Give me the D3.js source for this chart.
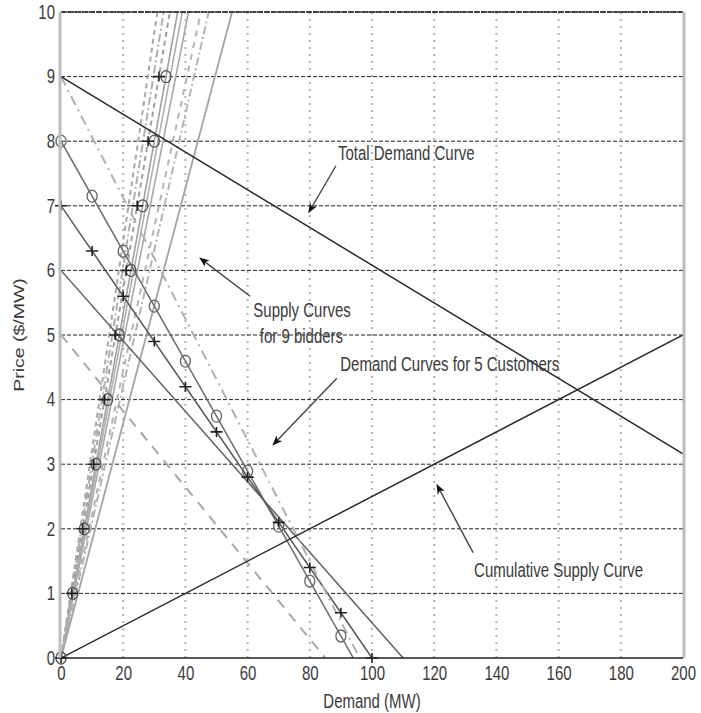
<!DOCTYPE html>
<html>
<head>
<meta charset="utf-8">
<script src="https://cdn.jsdelivr.net/npm/d3@7"></script>
<style>
  body { margin: 0; background: #fff; }
  svg { display: block; }
  text { font-family: "Liberation Sans", Arial, sans-serif; fill: #3a3a3a; }
</style>
</head>
<body>
<svg id="chart" width="701" height="713"></svg>
<script>
// ---------- data ----------
const xTicks = [0, 20, 40, 60, 80, 100, 120, 140, 160, 180, 200];
const yTicks = [0, 1, 2, 3, 4, 5, 6, 7, 8, 9, 10];

// Supply curves of 9 bidders: quantity (MW) reached at price 10 $/MW (lines through origin)
const supplyQtyAtPrice10 = [31, 33, 35, 37.5, 39, 41, 45, 47.5, 55];
// Price points of the marked supply curves
const supplyMarkerPrices = [0, 1, 2, 3, 4, 5, 6, 7, 8, 9];

// Demand curves of 5 customers: price intercept and demand at zero price
const customerPriceIntercept = [8, 7, 6, 5, 9];
const customerMaxDemand = [94, 100, 110, 85, 96];
// Marker quantities on customer 1 (circles) and customer 2 (pluses)
const customer1MarkerQty = [0, 10, 20, 30, 40, 50, 60, 70, 80, 90];
const customer2MarkerQty = [0, 10, 20, 30, 40, 50, 60, 70, 80, 90, 100];

// Aggregate curves
const totalDemand = [[0, 9], [200, 3.16]];
const cumulativeSupply = [[0, 0], [200, 5]];

// Annotations (data coordinates)
const annotationLabels = ["Total Demand Curve", "Supply Curves", "for 9 bidders", "Demand Curves for 5 Customers", "Cumulative Supply Curve"];
const annotationPos = [[111, 7.82], [77.5, 5.39], [77.3, 4.98], [125, 4.55], [160, 1.36]];
const arrowFrom = [[88.4, 7.62], [60.8, 5.6], [88.7, 4.33], [132.5, 1.63]];
const arrowTo = [[79.7, 6.9], [44.7, 6.19], [68.2, 3.3], [120.9, 2.68]];

// ---------- drawing ----------
const svg = d3.select("#chart");
const x = d3.scaleLinear([0, 200], [61, 683]);
const y = d3.scaleLinear([0, 10], [658, 12]);
const VS = 1.3; // vertical stretch of the lettering

svg.append("defs").append("clipPath").attr("id", "clip")
  .append("rect").attr("x", x(0)).attr("y", y(10)).attr("width", x(200) - x(0)).attr("height", y(0) - y(10));

svg.select("defs").append("marker")
  .attr("id", "arrow").attr("viewBox", "0 0 10 10").attr("refX", 9).attr("refY", 5)
  .attr("markerWidth", 10).attr("markerHeight", 10).attr("markerUnits", "userSpaceOnUse")
  .attr("orient", "auto")
  .append("path").attr("d", "M0,1 L10,5 L0,9 L2.5,5 Z").attr("fill", "#111");

// vertical grid (dotted gray)
svg.append("g").selectAll("line").data(xTicks.filter(d => d > 0 && d < 200)).join("line")
  .attr("x1", d => x(d)).attr("x2", d => x(d)).attr("y1", y(10)).attr("y2", y(0))
  .attr("stroke", "#b4b4b4").attr("stroke-width", 2).attr("stroke-dasharray", "2,5");

// horizontal grid (dark dashed)
svg.append("g").selectAll("line").data(yTicks.filter(d => d > 0)).join("line")
  .attr("x1", x(0)).attr("x2", x(200)).attr("y1", d => y(d)).attr("y2", d => y(d))
  .attr("stroke", "#222").attr("stroke-width", 1).attr("stroke-dasharray", "4,2");

const plot = svg.append("g").attr("clip-path", "url(#clip)");
const line = d3.line().x(d => x(d[0])).y(d => y(d[1]));

// supply curves
const supplyStyle = [
  { c: "#a8a8a8", w: 2, dash: "5,4" },
  { c: "#b0b0b0", w: 2, dash: "8,3,2,3" },
  { c: "#a0a0a0", w: 2, dash: "5,4" },
  { c: "#a0a0a0", w: 1.6, dash: null },
  { c: "#b0b0b0", w: 1.6, dash: null },
  { c: "#a8a8a8", w: 1.6, dash: null },
  { c: "#b4b4b4", w: 2, dash: "6,6" },
  { c: "#b4b4b4", w: 2, dash: "8,3,2,3" },
  { c: "#a4a4a4", w: 1.8, dash: null }
];
supplyQtyAtPrice10.forEach((q, i) => {
  const s = supplyStyle[i];
  plot.append("path").attr("d", line([[0, 0], [q, 10]]))
    .attr("fill", "none").attr("stroke", s.c).attr("stroke-width", s.w)
    .attr("stroke-dasharray", s.dash);
});

// customer demand curves
const custStyle = [
  { c: "#6a6a6a", w: 1.5, dash: null },
  { c: "#555", w: 1.5, dash: null },
  { c: "#606060", w: 1.5, dash: null },
  { c: "#a8a8a8", w: 2, dash: "10,8" },
  { c: "#b0b0b0", w: 2, dash: "10,5,2,5" }
];
customerPriceIntercept.forEach((p, i) => {
  const s = custStyle[i];
  plot.append("path").attr("d", line([[0, p], [customerMaxDemand[i], 0]]))
    .attr("fill", "none").attr("stroke", s.c).attr("stroke-width", s.w)
    .attr("stroke-dasharray", s.dash);
});

// aggregate curves
plot.append("path").attr("d", line(totalDemand)).attr("fill", "none").attr("stroke", "#2a2a2a").attr("stroke-width", 1.5);
plot.append("path").attr("d", line(cumulativeSupply)).attr("fill", "none").attr("stroke", "#2a2a2a").attr("stroke-width", 1.5);

// markers
const c1 = (q) => customerPriceIntercept[0] * (1 - q / customerMaxDemand[0]);
const c2 = (q) => customerPriceIntercept[1] * (1 - q / customerMaxDemand[1]);
const supplyMarked = supplyQtyAtPrice10[3];

const mk = svg.append("g");
mk.selectAll("ellipse.c1").data(customer1MarkerQty).join("ellipse")
  .attr("cx", d => x(d)).attr("cy", d => y(c1(d))).attr("rx", 5).attr("ry", 6)
  .attr("fill", "none").attr("stroke", "#666").attr("stroke-width", 1.3);
mk.selectAll("ellipse.s").data(supplyMarkerPrices).join("ellipse")
  .attr("cx", d => x(d * supplyMarked / 10)).attr("cy", d => y(d)).attr("rx", 5).attr("ry", 6)
  .attr("fill", "none").attr("stroke", "#555").attr("stroke-width", 1.3);
const plus = (g, px, py) => {
  g.append("path").attr("d", `M${px - 6},${py} H${px + 6} M${px},${py - 5} V${py + 5}`)
    .attr("stroke", "#222").attr("stroke-width", 1.6);
};
customer2MarkerQty.forEach(q => plus(mk, x(q), y(c2(q))));
supplyMarkerPrices.forEach(p => plus(mk, x(p * supplyQtyAtPrice10[2] / 10), y(p)));

// axes frame
svg.append("line").attr("x1", x(0)).attr("x2", x(200)).attr("y1", y(10)).attr("y2", y(10))
  .attr("stroke", "#222").attr("stroke-width", 1.6).attr("stroke-dasharray", "6,1");
svg.append("line").attr("x1", x(0) - 1).attr("x2", x(0) - 1).attr("y1", y(10)).attr("y2", y(0))
  .attr("stroke", "#bdbdbd").attr("stroke-width", 3);
svg.append("line").attr("x1", x(200) + 1).attr("x2", x(200) + 1).attr("y1", y(10)).attr("y2", y(0))
  .attr("stroke", "#bdbdbd").attr("stroke-width", 3);
svg.append("line").attr("x1", x(0)).attr("x2", x(200)).attr("y1", y(0)).attr("y2", y(0))
  .attr("stroke", "#222").attr("stroke-width", 1.6);

// tick labels through d3 axes
const xAxis = svg.append("g").attr("transform", `translate(0,${y(0)})`)
  .call(d3.axisBottom(x).tickValues(xTicks).tickSize(0).tickPadding(8).tickFormat(d3.format("d")));
xAxis.select(".domain").remove();
xAxis.selectAll("text").style("font-size", "15px").attr("fill", "#3a3a3a")
  .attr("y", 0).attr("dy", "0.35em").attr("transform", `translate(0,15) scale(1,${VS})`);

const yAxis = svg.append("g").attr("transform", `translate(${x(0)},0)`)
  .call(d3.axisLeft(y).tickValues(yTicks).tickSize(0).tickPadding(6).tickFormat(d3.format("d")));
yAxis.select(".domain").remove();
yAxis.selectAll("text").style("font-size", "15px").attr("fill", "#3a3a3a")
  .attr("transform", `scale(1,${VS})`);

// axis titles
svg.append("text").attr("transform", `translate(${(x(0) + x(200)) / 2},701) scale(1,${VS})`)
  .attr("dy", "0.35em").attr("text-anchor", "middle")
  .style("font-size", "15px").text("Demand (MW)");
svg.append("text").attr("transform", `translate(24,${(y(0) + y(10)) / 2}) rotate(-90) scale(${VS},1)`)
  .attr("text-anchor", "middle").style("font-size", "15px").text("Price ($/MW)");

// annotations
annotationLabels.forEach((t, i) => {
  svg.append("text")
    .attr("transform", `translate(${x(annotationPos[i][0])},${y(annotationPos[i][1])}) scale(1,${VS})`)
    .attr("dy", "0.35em").attr("text-anchor", "middle").style("font-size", "15px").text(t);
});
arrowFrom.forEach((f, i) => {
  svg.append("line").attr("x1", x(f[0])).attr("y1", y(f[1]))
    .attr("x2", x(arrowTo[i][0])).attr("y2", y(arrowTo[i][1]))
    .attr("stroke", "#444").attr("stroke-width", 1.4).attr("marker-end", "url(#arrow)");
});
</script>
</body>
</html>
